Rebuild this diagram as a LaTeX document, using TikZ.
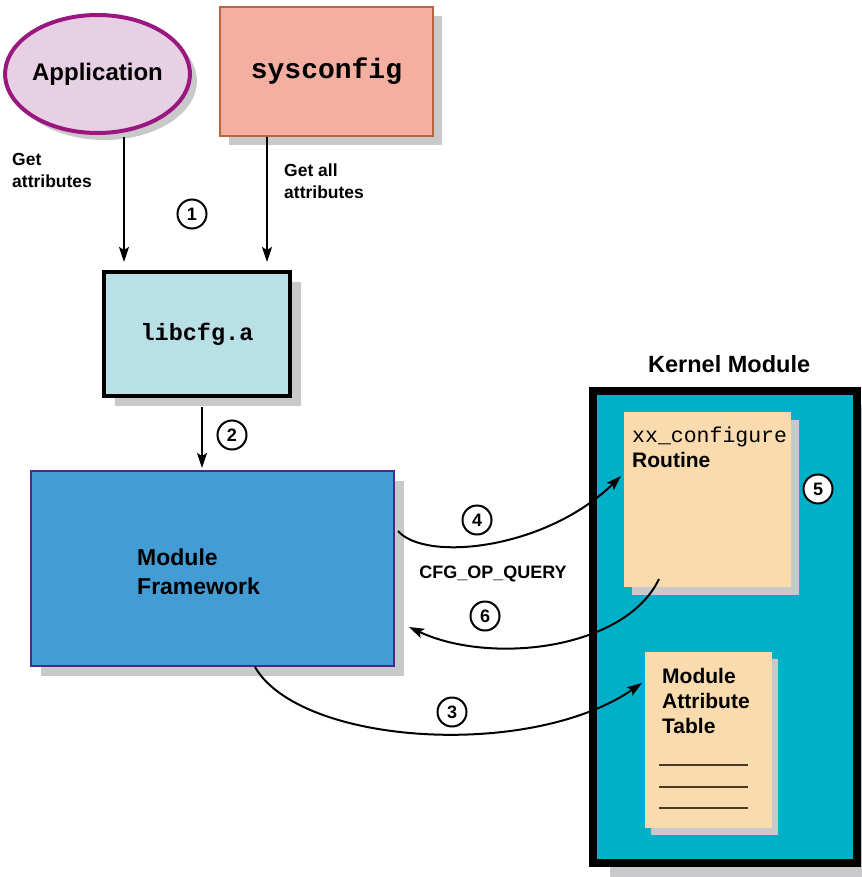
\documentclass[tikz,border=0pt]{standalone}
\usepackage{fontspec}
\setmainfont{Liberation Sans}
\newfontfamily\codefont{Liberation Mono}
\usetikzlibrary{arrows.meta,shadows,shapes.geometric}
\definecolor{appfill}{HTML}{E8D0E4}
\definecolor{appdraw}{HTML}{99177F}
\definecolor{sysfill}{HTML}{F4AFA0}
\definecolor{sysdraw}{HTML}{B5653F}
\definecolor{libfill}{HTML}{B9DFE7}
\definecolor{mffill}{HTML}{449CD4}
\definecolor{mfdraw}{HTML}{4A2A8C}
\definecolor{kfill}{HTML}{00B0C8}
\definecolor{pagefill}{HTML}{FADBAE}
\definecolor{shade}{HTML}{C9C9CB}
\definecolor{rulecol}{HTML}{4A3A2A}
\begin{document}
\begin{tikzpicture}[x=1pt,y=1pt,
  shad/.style 2 args={general shadow={fill=shade, shadow xshift=#1, shadow yshift=#2}},
  boxnode/.style={rectangle, inner sep=0pt},
  page/.style={rectangle, inner sep=0pt, fill=pagefill},
  txt/.style={inner sep=0pt, anchor=base west, align=left},
  num/.style={circle, draw, fill=white, line width=2pt, minimum size=29pt, inner sep=0pt,
              font=\fontsize{18}{18}\selectfont\bfseries},
  arr/.style={line width=2pt, -{Stealth[length=15pt,width=10pt,inset=3pt]}},
  tablerule/.style={line width=1.5pt, draw=rulecol}
]
\useasboundingbox (0,0) rectangle (861,-877);
\fill[white] (0,0) rectangle (861,-877);

% Application
\node[ellipse, draw=appdraw, fill=appfill, line width=4pt, minimum width=177pt, minimum height=118pt,
      inner sep=0pt, shad={7pt}{-7pt}, font=\fontsize{24}{28}\selectfont\bfseries] (app) at (97.5,-74) {Application};

% sysconfig
\node[boxnode, draw=sysdraw, fill=sysfill, line width=2pt, minimum width=213pt, minimum height=129pt,
      shad={9pt}{-9pt}, font=\fontsize{28}{32}\codefont\bfseries] (sys) at (326.5,-71.5) {sysconfig};

% libcfg.a
\node[boxnode, draw=black, fill=libfill, line width=4pt, minimum width=186pt, minimum height=124pt,
      shad={11pt}{-10pt}, font=\fontsize{23.5}{28}\codefont\bfseries] (lib) at (197,-334) {libcfg.a};

% Module Framework
\node[boxnode, draw=mfdraw, fill=mffill, line width=2pt, minimum width=363pt, minimum height=195pt,
      shad={10pt}{-10pt}] (mf) at (212.5,-568.5) {};
\node[txt, font=\fontsize{23}{29}\selectfont\bfseries] (mflabel) at (137,-594) {Module\\Framework};

% Kernel Module
\node[txt, font=\fontsize{23.5}{28}\selectfont\bfseries] (klabel) at (648,-372) {Kernel Module};
\node[boxnode, draw=black, fill=kfill, line width=8pt, minimum width=264pt, minimum height=472pt,
      shad={17pt}{-14pt}] (kern) at (725,-627) {};

% xx_configure routine page
\node[page, minimum width=167pt, minimum height=175pt, shad={8pt}{-8pt}] (p1) at (707.5,-499.5) {};
\node[txt, font=\fontsize{21.5}{26}\codefont] (p1code) at (632,-442) {xx\_configure};
\node[txt, font=\fontsize{21}{26}\selectfont\bfseries] (p1label) at (632,-467) {Routine};

% Module attribute table page
\node[page, minimum width=127pt, minimum height=176pt, shad={6pt}{-7pt}] (p2) at (708.5,-740) {};
\node[txt, font=\fontsize{21}{25}\selectfont\bfseries] (p2label) at (662,-733) {Module\\Attribute\\Table};
\draw[tablerule] (659,-765) -- (748,-765);
\draw[tablerule] (659,-787) -- (748,-787);
\draw[tablerule] (659,-808) -- (748,-808);

% side labels
\node[txt, font=\fontsize{17.5}{22}\selectfont\bfseries] (getattr) at (12,-188) {Get\\attributes};
\node[txt, font=\fontsize{17.5}{22}\selectfont\bfseries] (getall) at (284,-199) {Get all\\attributes};
\node[inner sep=0pt, anchor=base, font=\fontsize{18}{22}\selectfont\bfseries] (query) at (493,-578) {CFG\_OP\_QUERY};

% step numbers
\node[num] (c1) at (192,-214) {1};
\node[num] (c2) at (232,-435) {2};
\node[num] (c3) at (452,-712) {3};
\node[num] (c4) at (477,-520) {4};
\node[num] (c5) at (818,-489) {5};
\node[num] (c6) at (485,-616) {6};

% connectors
\coordinate (appout) at (124,-137);
\coordinate (sysout) at (267,-137);
\coordinate (libout) at (202,-407);
\draw[arr, shorten >=8pt] (appout) -- (appout |- lib.north);
\draw[arr, shorten >=8pt] (sysout) -- (sysout |- lib.north);
\draw[arr, shorten >=2pt] (libout) -- (libout |- mf.north);

\coordinate (q4s) at (398,-531);
\coordinate (q4e) at (621,-476);
\draw[arr] (q4s) .. controls (425,-562) and (545,-550) .. (q4e);

\coordinate (q6s) at (659,-579);
\coordinate (q6e) at (409,-627);
\draw[arr] (q6s) .. controls (625,-650) and (490,-665) .. (q6e);

\coordinate (q3s) at (255,-667);
\coordinate (q3e) at (642,-683);
\draw[arr] (q3s) .. controls (300,-745) and (530,-760) .. (q3e);
\end{tikzpicture}
\end{document}
